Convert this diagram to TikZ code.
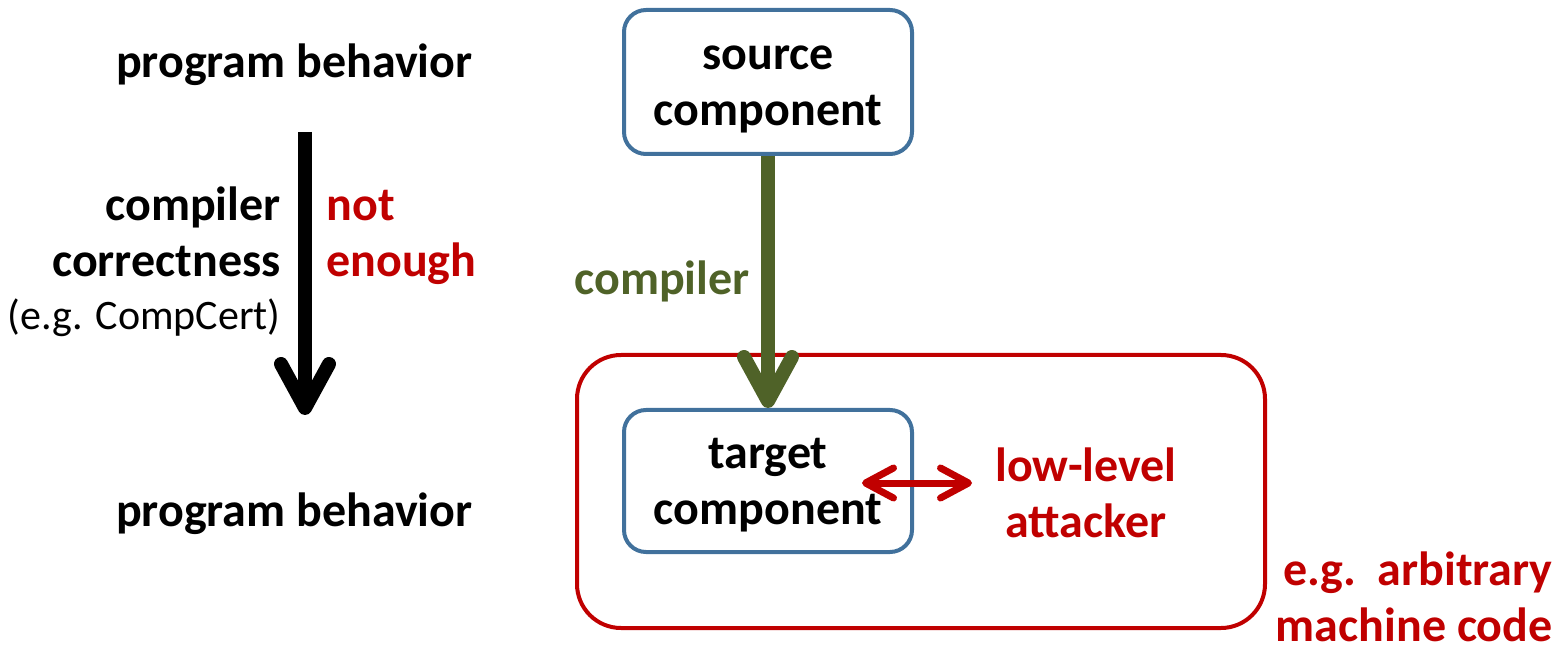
\documentclass[tikz,border=0pt]{standalone}
\usepackage{fontspec}
\setmainfont{Carlito}
\usetikzlibrary{arrows.meta}
\definecolor{boxblue}{HTML}{41719C}
\definecolor{attackred}{HTML}{C00000}
\definecolor{compgreen}{HTML}{4F6228}
% a strut with extra room above the first line
\newcommand\headstrut{\rule{0pt}{23.6pt}}
\begin{document}
\begin{tikzpicture}[x=0.5pt,y=-0.5pt,
  txt/.style={font=\fontsize{24}{28}\selectfont\bfseries, inner sep=0pt},
  plain/.style={font=\fontsize{21}{28}\selectfont, inner sep=0pt},
  comp/.style={draw=boxblue, line width=2pt, rounded corners=11pt,
    minimum width=144pt, align=center, inner sep=0pt,
    font=\fontsize{24}{28}\selectfont\bfseries},
  bigarrow/.style={line width=7pt,
    -{Straight Barb[length=22pt,width=24pt,round]}},
  duplex/.style={attackred, line width=3.5pt,
    {Straight Barb[length=14pt,width=15pt,round]}-{Straight Barb[length=14pt,width=15pt,round]}}
]
\useasboundingbox (0,0) rectangle (1563,646);

% attacker context (drawn first so the arrow sits on top)
\node[draw=attackred, line width=2pt, rounded corners=22pt,
  minimum width=344pt, minimum height=136.5pt, inner sep=0pt]
  (context) at (921,491.5) {};

% components
\node[comp, minimum height=72pt] (src) at (768,82)
  {\headstrut source\\component\strut};
\node[comp, minimum height=71pt] (tgt) at (768,481)
  {\headstrut target\\component\strut};

% compilation
\draw[bigarrow, compgreen] (src.south) -- (tgt.north);
\node[txt, text=compgreen] (complbl) at (662,281) {compiler};

% attacker
\node[txt, text=attackred, align=center] (attacker) at (1086,498)
  {\strut low-level\\attacker\strut};
\coordinate (duL) at (862,483);
\coordinate (duR) at (972,483);
\draw[duplex] (duL) -- (duR);

\node[txt, text=attackred, align=right, anchor=east] (machine) at (1553,594)
  {\strut e.g.~~arbitrary\\machine code};

% left column: behaviour preservation
\node[txt, anchor=east] (pbtop) at (473,66) {\strut program behavior};
\node[txt, anchor=east] (pbbot) at (473,515) {\strut program behavior};

\coordinate (cTop) at (305,132);
\coordinate (cBot) at (305,415);
\draw[bigarrow, black] (cTop) -- (cBot);

\node[txt, align=right, anchor=east] (cc) at (281,237)
  {\strut compiler\\correctness\strut};
\node[plain, anchor=east] (ccex) at (281,318) {\strut (e.g. CompCert)};
\node[txt, text=attackred, align=left, anchor=west] (notenough) at (326,237)
  {\strut not\\enough\strut};
\end{tikzpicture}
\end{document}
